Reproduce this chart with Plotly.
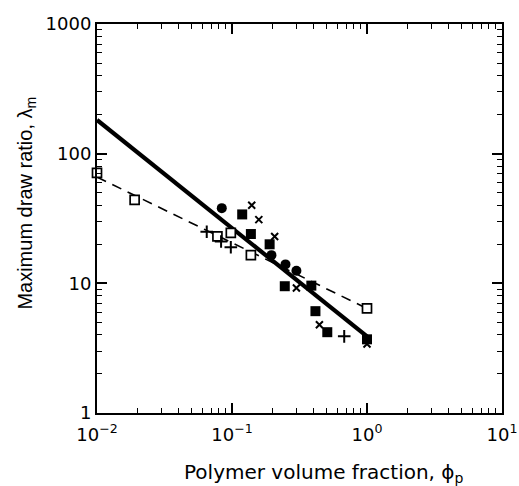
import plotly.graph_objects as go

# ---- data ----
open_sq_x = [0.01, 0.019, 0.078, 0.098, 0.138, 1.0]
open_sq_y = [71, 44, 23, 24.5, 16.5, 6.4]

fill_sq_x = [0.119, 0.138, 0.19, 0.246, 0.387, 0.415, 0.508, 1.0]
fill_sq_y = [34, 24, 20, 9.5, 9.6, 6.1, 4.2, 3.7]

fill_ci_x = [0.084, 0.196, 0.249, 0.30]
fill_ci_y = [38, 16.5, 14, 12.5]

cross_x = [0.14, 0.158, 0.207, 0.30, 0.444, 1.0]
cross_y = [40, 31, 23, 9.2, 4.8, 3.4]

plus_x = [0.065, 0.083, 0.098, 0.678]
plus_y = [25, 21, 19, 3.9]

fit_x = [0.01, 1.0]
solid_fit_y = [182, 3.9]
dashed_fit_y = [66, 6.4]

x_tickvals = [0.01, 0.1, 1, 10]
x_ticktext = ["10<sup>\u22122</sup>", "10<sup>\u22121</sup>", "10<sup>0</sup>", "10<sup>1</sup>"]
y_tickvals = [1, 10, 100, 1000]
y_ticktext = ["1", "10", "100", "1000"]

x_title = "Polymer volume fraction, \u03d5<sub>p</sub>"
y_title = "Maximum draw ratio, \u03bb<sub>m</sub>"

WIDE = "DejaVu Sans, Verdana, sans-serif"
NARROW = "Liberation Sans, Arial, Helvetica, sans-serif"

fig = go.Figure()
fig.add_trace(go.Scatter(x=fit_x, y=dashed_fit_y, mode="lines",
                         line=dict(color="black", width=1.6, dash="10px,7px"),
                         showlegend=False))
fig.add_trace(go.Scatter(x=fit_x, y=solid_fit_y, mode="lines",
                         line=dict(color="black", width=4.2), showlegend=False))
fig.add_trace(go.Scatter(x=open_sq_x, y=open_sq_y, mode="markers", cliponaxis=False,
                         marker=dict(symbol="square", size=9, color="white",
                                     line=dict(color="black", width=1.7)),
                         showlegend=False))
fig.add_trace(go.Scatter(x=fill_sq_x, y=fill_sq_y, mode="markers", cliponaxis=False,
                         marker=dict(symbol="square", size=10, color="black"),
                         showlegend=False))
fig.add_trace(go.Scatter(x=fill_ci_x, y=fill_ci_y, mode="markers", cliponaxis=False,
                         marker=dict(symbol="circle", size=10, color="black"),
                         showlegend=False))
fig.add_trace(go.Scatter(x=cross_x, y=cross_y, mode="markers", cliponaxis=False,
                         marker=dict(symbol="x-thin", size=7, color="black",
                                     line=dict(color="black", width=2)),
                         showlegend=False))
fig.add_trace(go.Scatter(x=plus_x, y=plus_y, mode="markers", cliponaxis=False,
                         marker=dict(symbol="cross-thin", size=9, color="black",
                                     line=dict(color="black", width=2)),
                         showlegend=False))
# invisible helper trace so the mirrored top/right tick axes are drawn
fig.add_trace(go.Scatter(x=fit_x, y=solid_fit_y, xaxis="x2", yaxis="y2", mode="markers",
                         marker=dict(opacity=0), hoverinfo="skip", showlegend=False))

minor_x = [m * 10 ** e for e in range(-2, 1) for m in range(2, 10)]
minor_y = [m * 10 ** e for e in range(0, 3) for m in range(2, 10)]

tick_common = dict(
    type="log", showgrid=False, zeroline=False, automargin=False,
    showline=True, linecolor="black", linewidth=2,
    ticks="inside", ticklen=10, tickwidth=1.6,
    tickcolor="black", tickmode="array",
    tickfont=dict(family=WIDE, size=18, color="black"),
)
minor_common = dict(ticks="inside", ticklen=5, tickwidth=1.4, tickcolor="black", showgrid=False)

fig.update_layout(
    xaxis=dict(**tick_common, range=[-2, 1], tickvals=x_tickvals, ticktext=x_ticktext,
               ticklabeloverflow="allow", ticklabelstandoff=4,
               minor=dict(**minor_common, tickvals=minor_x)),
    yaxis=dict(**tick_common, range=[0, 3], tickvals=y_tickvals, ticktext=y_ticktext,
               minor=dict(**minor_common, tickvals=minor_y)),
    xaxis2=dict(**tick_common, range=[-2, 1], tickvals=x_tickvals, showticklabels=False,
                minor=dict(**minor_common, tickvals=minor_x),
                overlaying="x", side="top", anchor="y2"),
    yaxis2=dict(**tick_common, range=[0, 3], tickvals=y_tickvals, showticklabels=False,
                minor=dict(**minor_common, tickvals=minor_y),
                overlaying="y", side="right", anchor="x2"),
    annotations=[
        dict(text=x_title, xref="paper", yref="paper", x=0.56, y=-0.153,
             xanchor="center", yanchor="middle", showarrow=False,
             font=dict(family=WIDE, size=20, color="black")),
        dict(text=y_title, xref="paper", yref="paper", x=-0.175, y=0.5386,
             xanchor="center", yanchor="middle", showarrow=False, textangle=-90,
             font=dict(family=NARROW, size=20, color="black")),
    ],
    width=519, height=486,
    margin=dict(l=97, r=17, t=24, b=73),
    paper_bgcolor="white", plot_bgcolor="white",
    font=dict(family=NARROW, color="black"),
)

fig.write_html("out.html")
